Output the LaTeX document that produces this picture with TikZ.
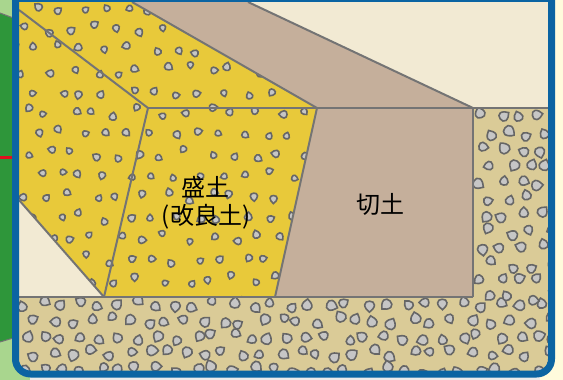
\documentclass[tikz,border=0pt]{standalone}
\usepackage{fontspec}
\newfontfamily\cjk{Noto Sans CJK JP}
\definecolor{frameblue}{HTML}{0B64A2}
\definecolor{cream}{HTML}{F2EAD3}
\definecolor{cutbrown}{HTML}{C5AF9B}
\definecolor{fillyellow}{HTML}{E8C93A}
\definecolor{graveltan}{HTML}{DACB97}
\definecolor{pebblefill}{HTML}{C6C6C6}
\definecolor{pebbleline}{HTML}{666666}
\definecolor{linegray}{HTML}{747474}
\definecolor{darkgreen}{HTML}{2E963A}
\definecolor{lightgreen}{HTML}{A9D68E}
\definecolor{paleyellow}{HTML}{FFFBDC}
\definecolor{markred}{HTML}{E0101E}
\begin{document}
\begin{tikzpicture}[x=1pt,y=-1pt,
  edge/.style={draw=linegray, line width=2pt, line join=round},
  pebble/.style={draw=pebbleline, fill=pebblefill, line width=1.6pt},
  label/.style={font=\cjk\fontsize{24}{28}\selectfont, text=black, inner sep=0pt},
  drop/.pic={\path[pebble] (0,3.6) .. controls (1.6,2.6) and (3,0.6) .. (3,-0.8)
      .. controls (3,-2.4) and (1.6,-3.1) .. (0,-3.1)
      .. controls (-1.6,-3.1) and (-3,-2.4) .. (-3,-0.8)
      .. controls (-3,0.6) and (-1.6,2.6) .. (0,3.6) -- cycle;}]
\useasboundingbox (0,0) rectangle (563,380);
\pgfmathsetseed{7}

% surroundings
\fill[paleyellow] (0,0) rectangle (563,380);
\fill[darkgreen] (0,0) rectangle (16,380);
\fill[lightgreen] (0,0) -- (16,0) -- (16,19) -- (0,13) -- cycle;
\draw[linegray, line width=1pt] (0,13) -- (16,19);
\fill[lightgreen] (0,342) -- (40,330) -- (40,380) -- (0,380) -- cycle;
\draw[linegray, line width=1pt] (0,342) -- (40,330);
\fill[markred] (0,156) rectangle (13,159);
\fill[black!8] (30,377) rectangle (540,380);

% ground layers
\fill[cream] (19,-5) rectangle (548,372);
\fill[cutbrown] (132,2) -- (248,2) -- (473,108) -- (473,297) -- (275,297) -- (317,108) -- cycle;
\fill[fillyellow] (19,-5) -- (132,-5) -- (132,2) -- (317,108) -- (275,297) -- (104,297) -- (19,200) -- cycle;
\fill[graveltan] (19,297) -- (473,297) -- (473,108) -- (548,108) -- (548,372) -- (19,372) -- cycle;

% stones of the embankment
\begin{scope}
  \clip (19,-5) -- (132,-5) -- (132,2) -- (317,108) -- (275,297) -- (104,297) -- (19,200) -- cycle;
  \foreach \j in {0,...,14}{
    \foreach \i in {0,...,14}{
      \pgfmathsetmacro\px{14+\i*23+mod(\j,2)*11.5+rand*6}
      \pgfmathsetmacro\py{7+\j*21+rand*5}
      \pgfmathsetmacro\ang{rnd*360}
      \pgfmathsetmacro\sz{0.95+rnd*0.3}
      \pic[rotate=\ang, scale=\sz] at (\px,\py) {drop};
    }
  }
\end{scope}

% gravel of the natural ground
\begin{scope}
  \clip (19,297) -- (473,297) -- (473,108) -- (548,108) -- (548,372) -- (19,372) -- cycle;
  \foreach \j in {0,...,4}{
    \foreach \i in {0,...,28}{
      \pgfmathsetmacro\px{24+\i*19+mod(\j,2)*9.5+rand*5}
      \pgfmathsetmacro\py{304+\j*16.5+rand*4}
      \pgfmathsetmacro\ang{rnd*360}
      \pgfmathsetmacro\sz{1.35+rnd*0.4}
      \pic[rotate=\ang, scale=\sz] at (\px,\py) {drop};
    }
  }
  \foreach \j in {0,...,11}{
    \foreach \i in {0,...,3}{
      \pgfmathsetmacro\px{483+\i*19+mod(\j,2)*9+rand*5}
      \pgfmathsetmacro\py{116+\j*16.5+rand*4}
      \pgfmathsetmacro\ang{rnd*360}
      \pgfmathsetmacro\sz{1.35+rnd*0.4}
      \pic[rotate=\ang, scale=\sz] at (\px,\py) {drop};
    }
  }
\end{scope}

% boundaries
\draw[edge] (248,2) -- (473,108);
\draw[edge] (132,2) -- (317,108);
\draw[edge] (19,10) -- (148,108);
\draw[edge] (148,108) -- (548,108);
\draw[edge] (148,108) -- (104,297);
\draw[edge] (19,200) -- (104,297);
\draw[edge] (317,108) -- (275,297);
\draw[edge] (473,108) -- (473,297);
\draw[edge] (19,297) -- (473,297);

% labels
\node[label] (mori) at (205,187) {盛土};
\node[label] (kairyo) at (206,217) {(改良土)};
\node[label] (kiri) at (380,204) {切土};

% frame
\fill[frameblue] (12,0) rectangle (555,2.3);
\draw[frameblue, line width=7pt, rounded corners=15pt] (15.5,-20) -- (15.5,374) -- (551.5,374) -- (551.5,-20);
\end{tikzpicture}
\end{document}
